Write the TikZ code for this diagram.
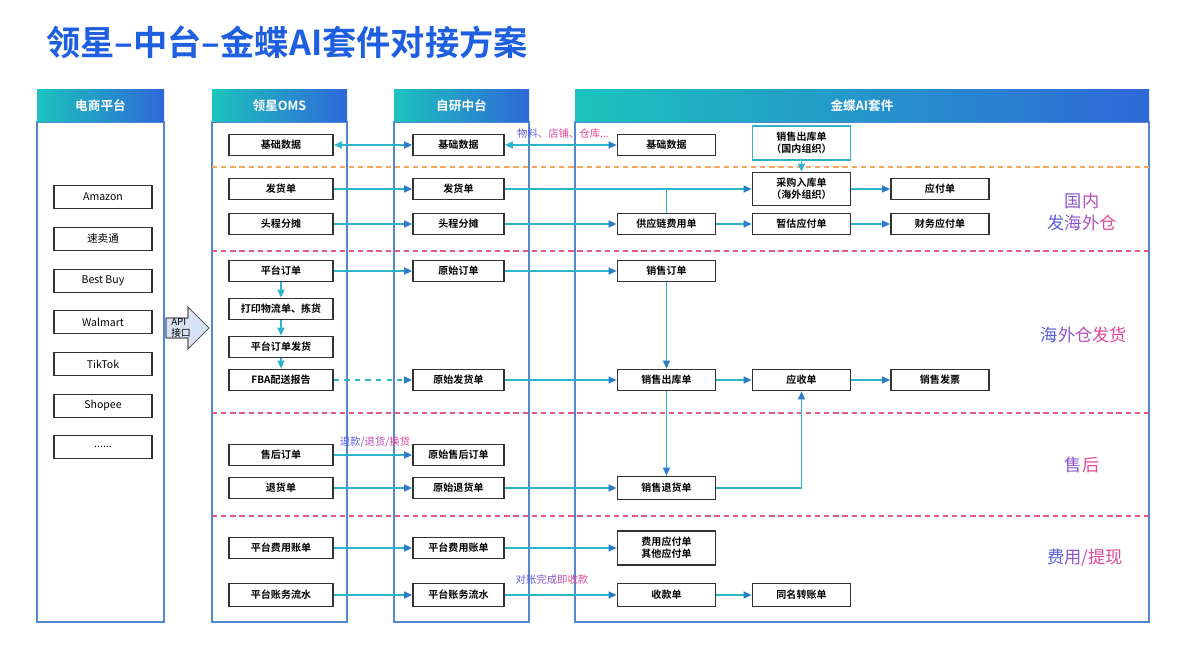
\documentclass[tikz,border=0pt]{standalone}
\usepackage{fontspec}
\setmainfont{Noto Sans CJK SC}[BoldFont=* Bold]
\usetikzlibrary{arrows.meta}
\usetikzlibrary{calc}

\definecolor{titleblue}{HTML}{1D5FE0}
\definecolor{hdrteal}{HTML}{1BC3BD}
\definecolor{hdrblue}{HTML}{2F68D8}
\definecolor{laneblue}{HTML}{5487D2}
\definecolor{docgray}{HTML}{333333}
\definecolor{flowteal}{HTML}{2DB4CB}
\definecolor{tipblue}{HTML}{2A7DC6}
\definecolor{seporange}{HTML}{F2A75C}
\definecolor{seppink}{HTML}{E0578A}
\definecolor{apifill}{HTML}{D8E2F5}
\definecolor{apigray}{HTML}{5A5A5A}
\definecolor{ca}{HTML}{5B5FDB}
\definecolor{cb}{HTML}{8A55D0}
\definecolor{cc}{HTML}{B64DB8}
\definecolor{cd}{HTML}{E0479A}

\tikzstyle{doc}=[draw=docgray,line width=1pt,fill=white,inner sep=0pt,minimum height=0.42cm,font=\fontsize{5.7}{6.9}\selectfont\bfseries,align=center]
\tikzstyle{shop}=[doc,minimum width=1.96cm,minimum height=0.46cm,font=\fontsize{6}{7}\selectfont]
\tikzstyle{oms}=[doc,minimum width=2.08cm]
\tikzstyle{mid}=[doc,minimum width=1.82cm]
\tikzstyle{kd}=[doc,minimum width=1.96cm]
\tikzstyle{flow}=[draw=flowteal,line width=0.75pt,-{Triangle[length=1.6mm,width=1.4mm,color=tipblue]}]
\tikzstyle{flowboth}=[draw=flowteal,line width=0.75pt,{Triangle[length=1.6mm,width=1.4mm,color=flowteal]}-{Triangle[length=1.6mm,width=1.4mm,color=tipblue]}]
\tikzstyle{flowdown}=[draw=flowteal,line width=0.75pt,-{Triangle[length=1.6mm,width=1.4mm,color=flowteal]}]
\tikzstyle{link}=[draw=flowteal,line width=0.75pt]
\tikzstyle{sepline}=[line width=0.8pt,dash pattern=on 3pt off 2.2pt]
\tikzstyle{lane}=[draw=laneblue,line width=0.8pt]
\tikzstyle{hdr}=[text=white,font=\fontsize{7.2}{8}\selectfont\bfseries]
\tikzstyle{tag}=[font=\fontsize{9.8}{12.2}\selectfont,align=center]
\tikzstyle{note}=[font=\fontsize{5.9}{7}\selectfont]

\newcommand{\swimlane}[4]{%
	\draw[lane] (#2,122) rectangle (#3,622);
	\shade[left color=hdrteal,right color=hdrblue] (#2,90) rectangle (#3,122);
	\node[hdr] (#1) at ({(#2+#3)/2},106) {#4};}
\newcommand{\duo}[2]{\textcolor{ca}{#1}\textcolor{cd}{#2}}

\begin{document}
\begin{tikzpicture}[x=0.02cm,y=-0.02cm]
	\fill[white] (0,0) rectangle (1200,672);
	\useasboundingbox (0,0) rectangle (1200,672);
	
	\node[anchor=west,text=titleblue,font=\fontsize{19.5}{22}\selectfont\bfseries] (title) at (40,42) {领星–中台–金蝶AI套件对接方案};
	
	\swimlane{hdr-shop}{37}{164}{电商平台}
	\swimlane{hdr-oms}{212}{347}{领星OMS}
	\swimlane{hdr-mid}{394}{529}{自研中台}
	\swimlane{hdr-kd}{575}{1149}{金蝶AI套件}
	
	% section lines
	\draw[sepline,draw=seporange] (212,167) -- (1149,167);
	\draw[sepline,draw=seppink] (212,251) -- (1149,251);
	\draw[sepline,draw=seppink] (212,413) -- (1149,413);
	\draw[sepline,draw=seppink] (212,516) -- (1149,516);
	
	% platforms
	\node[shop] (amazon) at (103,197) {Amazon};
	\node[shop] (smt) at (103,239) {速卖通};
	\node[shop] (bestbuy) at (103,281) {Best Buy};
	\node[shop] (walmart) at (103,322) {Walmart};
	\node[shop] (tiktok) at (103,364) {TikTok};
	\node[shop] (shopee) at (103,406) {Shopee};
	\node[shop] (more) at (103,447) {......};
	
	\draw[fill=apifill,draw=apigray,line width=0.6pt] (166,318) -- (188,318) -- (188,307) -- (209,328) -- (188,349) -- (188,338) -- (166,338) -- cycle;
	\node[font=\fontsize{5.5}{6.2}\selectfont,align=left] (api) at (181,328) {API\\接口};
	
	% OMS
	\node[oms] (oms-base) at (281,145) {基础数据};
	\node[oms] (oms-ship) at (281,189) {发货单};
	\node[oms] (oms-head) at (281,224) {头程分摊};
	\node[oms] (oms-order) at (281,271) {平台订单};
	\node[oms] (oms-pick) at (281,309) {打印物流单、拣货};
	\node[oms] (oms-send) at (281,347) {平台订单发货};
	\node[oms] (oms-fba) at (281,380) {FBA配送报告};
	\node[oms] (oms-after) at (281,455) {售后订单};
	\node[oms] (oms-ret) at (281,488) {退货单};
	\node[oms] (oms-fee) at (281,548) {平台费用账单};
	\node[oms,minimum height=0.46cm] (oms-flow) at (281,595) {平台账务流水};
	
	% middle platform
	\node[mid] (mid-base) at (458.5,145) {基础数据};
	\node[mid] (mid-ship) at (458.5,189) {发货单};
	\node[mid] (mid-head) at (458.5,224) {头程分摊};
	\node[mid] (mid-order) at (458.5,271) {原始订单};
	\node[mid] (mid-fba) at (458.5,380) {原始发货单};
	\node[mid] (mid-after) at (458.5,455) {原始售后订单};
	\node[mid] (mid-ret) at (458.5,488) {原始退货单};
	\node[mid] (mid-fee) at (458.5,548) {平台费用账单};
	\node[mid,minimum height=0.46cm] (mid-flow) at (458.5,595) {平台账务流水};
	
	% kingdee
	\node[kd] (kd-base) at (666.5,145) {基础数据};
	\node[kd] (kd-scm) at (666.5,224) {供应链费用单};
	\node[kd] (kd-so) at (666.5,271) {销售订单};
	\node[kd] (kd-out) at (666.5,380) {销售出库单};
	\node[kd,minimum height=0.46cm] (kd-sret) at (666.5,488) {销售退货单};
	\node[kd,minimum height=0.68cm] (kd-pay) at (666.5,548) {费用应付单\\其他应付单};
	\node[kd,minimum height=0.46cm] (kd-rec) at (666.5,595) {收款单};
	\node[kd,draw=flowteal,minimum height=0.68cm] (kd-dout) at (801.5,143) {销售出库单\\（国内组织）};
	\node[kd,minimum height=0.66cm] (kd-pin) at (801.5,189) {采购入库单\\（海外组织）};
	\node[kd] (kd-est) at (801.5,224) {暂估应付单};
	\node[kd] (kd-ar) at (801.5,380) {应收单};
	\node[kd,minimum height=0.46cm] (kd-trans) at (801.5,595) {同名转账单};
	\node[kd] (kd-ap) at (940,189) {应付单};
	\node[kd] (kd-fin) at (940,224) {财务应付单};
	\node[kd] (kd-inv) at (940,380) {销售发票};
	
	% flows
	\draw[flowboth] (oms-base) -- (mid-base);
	\draw[flowboth] (mid-base) -- (kd-base);
	\draw[flow] (oms-ship) -- (mid-ship);
	\draw[flow] (mid-ship) -- (kd-pin);
	\draw[link] (mid-ship -| kd-scm) -- (kd-scm);
	\draw[flowdown] (kd-dout) -- (kd-pin);
	\draw[flow] (kd-pin) -- (kd-ap);
	\draw[flow] (oms-head) -- (mid-head);
	\draw[flow] (mid-head) -- (kd-scm);
	\draw[flow] (kd-scm) -- (kd-est);
	\draw[flow] (kd-est) -- (kd-fin);
	\draw[flow] (oms-order) -- (mid-order);
	\draw[flow] (mid-order) -- (kd-so);
	\draw[flowdown] (oms-order) -- (oms-pick);
	\draw[flowdown] (oms-pick) -- (oms-send);
	\draw[flowdown] (oms-send) -- (oms-fba);
	\draw[flow,dashed] (oms-fba) -- (mid-fba);
	\draw[flow] (mid-fba) -- (kd-out);
	\draw[flow] (kd-so) -- (kd-out);
	\draw[flow] (kd-out) -- (kd-ar);
	\draw[flow] (kd-ar) -- (kd-inv);
	\draw[flow] (kd-out) -- (kd-sret);
	\draw[flow] (kd-sret) -| (kd-ar);
	\draw[flow] (oms-after) -- (mid-after);
	\draw[flow] (oms-ret) -- (mid-ret);
	\draw[flow] (mid-ret) -- (kd-sret);
	\draw[flow] (oms-fee) -- (mid-fee);
	\draw[flow] (mid-fee) -- (kd-pay);
	\draw[flow] (oms-flow) -- (mid-flow);
	\draw[flow] (mid-flow) -- (kd-rec);
	\draw[flow] (kd-rec) -- (kd-trans);
	
	\node[note] (note-base) at (563,134) {\duo{物料}{、店铺、仓库...}};
	\node[note] (note-after) at (375,442) {\textcolor{ca}{退款}\textcolor{cb}{/}\textcolor{cc}{退货/}\textcolor{cd}{换货}};
	\node[note] (note-rec) at (552,580) {\textcolor{ca}{对账}\textcolor{cb}{完成}\textcolor{cc}{即}\textcolor{cd}{收款}};
	
	% sections
	\node[tag] (tag-dom) at (1082,212) {\textcolor{cb}{国}\textcolor{cc}{内}\\\textcolor{ca}{发}\textcolor{cb}{海}\textcolor{cc}{外}\textcolor{cd}{仓}};
	\node[tag] (tag-os) at (1084,335) {\textcolor{ca}{海}\textcolor{cb}{外}\textcolor{cc}{仓}\textcolor{cd}{发货}};
	\node[tag] (tag-after) at (1082,465) {\textcolor{cb}{售}\textcolor{cd}{后}};
	\node[tag] (tag-fee) at (1085,558) {\textcolor{ca}{费}\textcolor{cb}{用}\textcolor{cc}{/}\textcolor{cd}{提现}};
\end{tikzpicture}
\end{document}
